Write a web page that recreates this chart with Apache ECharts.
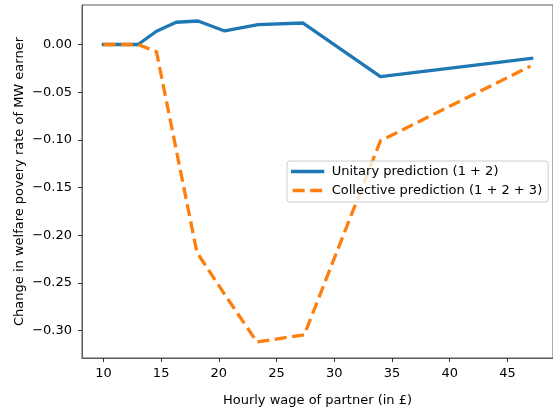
<!DOCTYPE html>
<html>
<head>
<meta charset="utf-8">
<script src="https://cdn.jsdelivr.net/npm/echarts@6/dist/echarts.min.js"></script>
<style>
html,body{margin:0;padding:0;background:#fff;}
#chart{width:553px;height:412px;}
</style>
</head>
<body>
<div id="chart"></div>
<script>
// Data
const wages = [10, 13, 14.6, 16.3, 18.2, 20.5, 23.4, 27.3, 34.0, 47.1];
const unitary = [0, 0, 0.0139, 0.0233, 0.0246, 0.0142, 0.0209, 0.0225, -0.0338, -0.0146];
const collectiveWages = [10, 13, 14.6, 16.3, 18.1, 20.5, 23.3, 27.4, 34.0, 47.0];
const collective = [0, 0, -0.0077, -0.110, -0.218, -0.262, -0.312, -0.3045, -0.101, -0.0227];
const xTicks = [10, 15, 20, 25, 30, 35, 40, 45];
const yTicks = [0, -0.05, -0.10, -0.15, -0.20, -0.25, -0.30];
const seriesNames = ['Unitary prediction (1 + 2)', 'Collective prediction (1 + 2 + 3)'];

const font = 'DejaVu Sans';
const chart = echarts.init(document.getElementById('chart'), null, {renderer: 'canvas'});
const fmtY = v => (v < -1e-9 ? '\u2212' : '') + Math.abs(v).toFixed(2);

chart.setOption({
  animation: false,
  backgroundColor: '#ffffff',
  grid: {
    left: 82, top: 5, width: 478, bottom: 53,
    show: true, borderColor: '#5a5a5a', borderWidth: 1, backgroundColor: 'transparent'
  },
  legend: {
    orient: 'vertical',
    left: 287, top: 161,
    itemWidth: 30, itemHeight: 14, itemGap: 6,
    padding: [4, 6, 5, 4],
    backgroundColor: 'rgba(255,255,255,0.8)',
    borderColor: '#cccccc', borderWidth: 1, borderRadius: 3,
    itemStyle: {opacity: 0},
    lineStyle: {width: 3.3},
    textStyle: {fontFamily: font, fontSize: 13, color: '#000', padding: [0, 0, 0, 4]},
    data: seriesNames
  },
  xAxis: {
    type: 'value',
    min: 8.145, max: 48.95,
    name: 'Hourly wage of partner (in \u00a3)',
    nameLocation: 'middle', nameGap: 36, nameMoveOverlap: false,
    nameTextStyle: {fontFamily: font, fontSize: 13, color: '#000'},
    axisLine: {show: true, onZero: false, lineStyle: {color: '#5a5a5a', width: 1}},
    axisTick: {show: true, length: 4, inside: false, customValues: xTicks, lineStyle: {color: '#333'}},
    axisLabel: {customValues: xTicks, margin: 9, fontFamily: font, fontSize: 13, color: '#000'},
    splitLine: {show: false}
  },
  yAxis: {
    type: 'value',
    min: -0.3288, max: 0.0414,
    name: 'Change in welfare povery rate of MW earner',
    nameLocation: 'middle', nameGap: 56, nameMoveOverlap: false,
    nameTextStyle: {fontFamily: font, fontSize: 13, color: '#000'},
    axisLine: {show: true, onZero: false, lineStyle: {color: '#5a5a5a', width: 1}},
    axisTick: {show: true, length: 4, inside: false, customValues: yTicks, lineStyle: {color: '#333'}},
    axisLabel: {customValues: yTicks, margin: 10, formatter: fmtY, fontFamily: font, fontSize: 13, color: '#000'},
    splitLine: {show: false}
  },
  series: [
    {
      name: seriesNames[0], type: 'line', symbol: 'none', showSymbol: false,
      data: wages.map((w, i) => [w, unitary[i]]),
      lineStyle: {color: '#1f77b4', width: 3.3, join: 'round', cap: 'square'},
      itemStyle: {color: '#1f77b4'}
    },
    {
      name: seriesNames[1], type: 'line', symbol: 'none', showSymbol: false,
      data: collectiveWages.map((w, i) => [w, collective[i]]),
      lineStyle: {color: '#ff7f0e', width: 3.3, type: [12, 5.5], join: 'round', cap: 'butt'},
      itemStyle: {color: '#ff7f0e'}
    }
  ]
});
</script>
</body>
</html>
